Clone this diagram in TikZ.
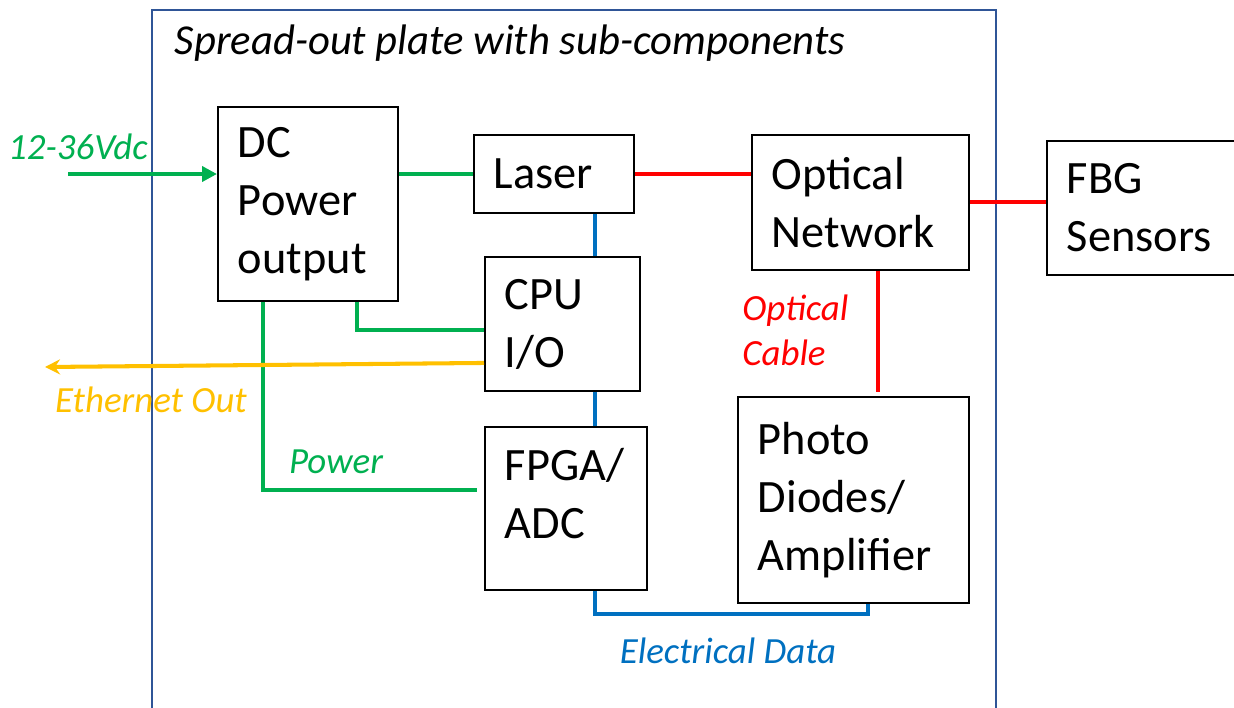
\documentclass[tikz,border=0pt]{standalone}
\usepackage{fontspec}
\setmainfont{Carlito}
\usetikzlibrary{arrows.meta,calc}
\definecolor{Frame}{RGB}{47,85,151}
\definecolor{Green}{RGB}{0,176,80}
\definecolor{Red}{RGB}{255,0,0}
\definecolor{Blue}{RGB}{0,112,192}
\definecolor{Amber}{RGB}{255,192,0}
\begin{document}
\begin{tikzpicture}[x=.02cm,y=-.02cm,
  box/.style={draw,line width=1.1pt,anchor=north west,align=left,inner xsep=.4cm,inner ysep=0pt,font=\fontsize{26.4}{33}\selectfont},
  lbl/.style={font=\fontsize{21}{25.5}\selectfont\itshape},
  wire/.style={line width=2.3pt}]
\clip (0,0) rectangle (1234,707);
% plate
\draw[Frame,line width=1.4pt] (152,730) |- (996,10) -- (996,730);
\node[font=\fontsize{24.3}{28}\selectfont\itshape] (title) at (510,43) {Spread-out plate with sub-components};
% blocks
\node[box,text width=2.8cm,minimum height=3.88cm] (dc) at (217,106) {DC\\Power\\output};
\node[box,text width=2.4cm,minimum height=1.56cm] (laser) at (473,134) {Laser};
\node[box,text width=2.3cm,minimum height=2.68cm] (cpu) at (484,256) {CPU\\I/O};
\node[box,text width=2.44cm,minimum height=3.26cm] (fpga) at (484,426) {FPGA/\\ADC\\[-16pt]\mbox{}};
\node[box,text width=3.54cm,minimum height=2.7cm] (opt) at (751,134) {Optical\\Network};
\node[box,text width=3.82cm,minimum height=4.12cm] (photo) at (737,396) {Photo\\Diodes/\\Amplifier};
\node[box,text width=3.12cm,minimum height=2.68cm] (fbg) at (1046,140) {FBG\\Sensors};
% helper coordinates
\coordinate (vin) at (68,174);
\coordinate (eth) at (45,367);
\coordinate (bx) at (595,0);
\coordinate (ox) at (878,0);
\coordinate (p1) at (357,330);
\coordinate (p2) at (263,490);
\coordinate (ex) at (868,614);
% power
\draw[wire,Green,-{Triangle[length=.3cm,width=.3cm]}] (vin) -- (vin -| dc.west);
\node[lbl,Green] (vdc) at (78,147) {12-36Vdc};
\draw[wire,Green] (laser.west -| dc.east) -- (laser.west);
\draw[wire,Green] (dc.south -| p1) |- (cpu.west |- p1);
\draw[wire,Green] (dc.south -| p2) |- ([xshift=-.14cm]fpga.west |- p2);
\node[lbl,Green] (pwr) at (336,462) {Power};
% ethernet
\draw[wire,Amber,-{Stealth[length=.3cm,width=.3cm,inset=.1cm]}] ([yshift=-.78cm]cpu.west) -- (eth);
\node[lbl,Amber] (ethl) at (151,400) {Ethernet Out};
% optical
\draw[wire,Red] (laser.east) -- (laser.east -| opt.west);
\draw[wire,Red] (opt.east) -- (opt.east -| fbg.west);
\draw[wire,Red] (opt.south -| ox) -- ([yshift=.08cm]photo.north -| ox);
\node[lbl,Red,anchor=west,align=left,inner sep=0pt] (cable) at (742,330) {Optical\\Cable};
% electrical
\draw[wire,Blue] (laser.south -| bx) -- (cpu.north -| bx);
\draw[wire,Blue] (cpu.south -| bx) -- (fpga.north -| bx);
\draw[wire,Blue] (fpga.south -| bx) |- (ex) -- (photo.south -| ex);
\node[lbl,Blue] (edata) at (728,651) {Electrical Data};
\end{tikzpicture}
\end{document}
